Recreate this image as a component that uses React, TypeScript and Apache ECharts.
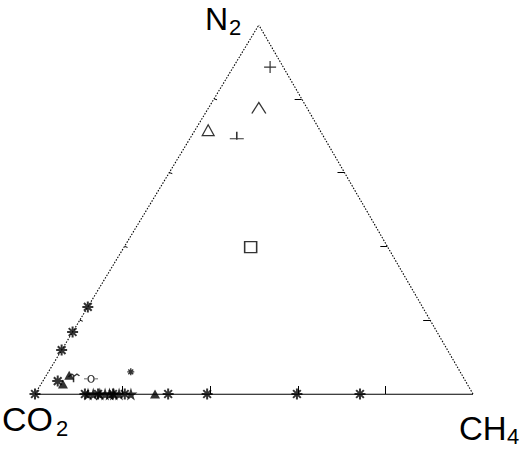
import React, { useEffect, useRef } from 'react';
import * as echarts from 'echarts';

// Vertex labels (main text + subscript): top, bottom-left, bottom-right
const vertexNames = ['N', 'CO', 'CH'];
const vertexSubscripts = ['2', '2', '4'];
const edgeTicks = [20, 40, 60, 80];

// Samples as [N2 %, CH4 %]; CO2 = 100 - N2 - CH4
const crossPts = [[88.6, 8.4]];
const caretPts = [[77.5, 11.5]];
const openTrianglePts = [[71.5, 3.0]];
const teePts = [[70.0, 10.3]];
const squarePts = [[39.8, 28.9]];
const asteriskPts = [
  [0, 0], [23.6, 0], [16.8, 0], [11.9, 0], [3.5, 3.4],
  [0, 11.4], [0, 14.4], [0, 17.8], [0, 20.5], [0, 30.4], [0, 39.3], [0, 59.8], [0, 74.2],
];
const smallAsteriskPts = [[6.0, 18.8]];
const starPts = [[0, 12.1], [0, 13.3], [0, 14.8], [0, 16.0], [0, 17.0], [0, 18.0], [0, 19.2], [0, 21.9]];
const filledTrianglePts = [[2.7, 5.0], [5.1, 5.2], [0, 27.4]];
const birdPts = [[4.3, 6.7]];
const circleLinePts = [[4.1, 10.7]];

const APEX_X = 0.511; // horizontal position of the N2 apex (drawing is slightly skewed)

const toXY = (p: number[]) => [p[1] / 100 + (p[0] / 100) * APEX_X, p[0] / 100];

const STAR = 'path://M50,0 L61,35 L98,35 L68,57 L79,91 L50,70 L21,91 L32,57 L2,35 L39,35 Z';
const ASTERISK = 'path://M5,0 L5,10 M0,5 L10,5 M1.5,1.5 L8.5,8.5 M8.5,1.5 L1.5,8.5';
const CROSS = 'path://M6,0 L6,12 M0,6 L12,6';
const CARET = 'path://M0,11 L7,0 L14,11';
const TEE = 'path://M0,7 L14,7 M7,0 L7,8';
const BIRD = 'path://M0,3 L4,0 L7,2 L10,0 L13,2 M6,1 L6,9';
const CIRCLE_LINE = 'path://M0,4 L3,4 M11,4 L14,4 M10,4 A3,3 0 1,1 4,4 A3,3 0 1,1 10,4';

export default function App() {
  const ref = useRef<HTMLDivElement>(null);
  useEffect(() => {
    if (!ref.current) return;
    const chart = echarts.init(ref.current, undefined, { renderer: 'svg' });
    const font = '"Liberation Sans", Arial, sans-serif';

    const strokeScatter = (name: string, data: number[][], symbol: string, size: any, width = 1.2) => ({
      name,
      type: 'scatter',
      data: data.map(toXY),
      symbol,
      symbolSize: size,
      silent: true,
      itemStyle: { color: 'transparent', borderColor: '#000', borderWidth: width },
      z: 5,
    });
    const fillScatter = (name: string, data: number[][], symbol: string, size: any) => ({
      name,
      type: 'scatter',
      data: data.map(toXY),
      symbol,
      symbolSize: size,
      silent: true,
      itemStyle: { color: '#000', borderWidth: 0 },
      z: 5,
    });

    const pxX = 1 / 438;
    const pxY = 1 / 369;
    const tickLines: any[] = [];
    edgeTicks.forEach((t) => {
      const f = t / 100;
      tickLines.push({ coords: [[f, 0], [f, 8 * pxY]] });
      const rx = 1 - f * (1 - APEX_X);
      tickLines.push({ coords: [[rx, f], [rx - 7 * pxX, f]] });
      const lx = f * APEX_X;
      tickLines.push({ coords: [[lx, f], [lx + 3 * pxX, f - 1 * pxY]] });
    });

    const labelPos = [
      { x: 205, y: 3, sx: 229, sy: 16, fs: 32 },
      { x: 2, y: 402, sx: 56, sy: 417, fs: 34 },
      { x: 459, y: 412, sx: 507, sy: 425, fs: 33 },
    ];
    const graphics: any[] = [];
    vertexNames.forEach((n, i) => {
      const p = labelPos[i];
      graphics.push({
        type: 'text', x: p.x, y: p.y,
        style: { text: n, fontSize: p.fs, fontFamily: font, fill: '#000', verticalAlign: 'top' },
      });
      graphics.push({
        type: 'text', x: p.sx, y: p.sy,
        style: { text: vertexSubscripts[i], fontSize: 22, fontFamily: font, fill: '#000', verticalAlign: 'top' },
      });
    });

    chart.setOption({
      animation: false,
      backgroundColor: '#fff',
      grid: { left: 35, right: 51, top: 25, bottom: 59 },
      xAxis: { type: 'value', min: 0, max: 1, show: false },
      yAxis: { type: 'value', min: 0, max: 1, show: false },
      graphic: graphics,
      series: [
        {
          type: 'lines', coordinateSystem: 'cartesian2d', silent: true, z: 2,
          data: [{ coords: [[0, 0], [1, 0]] }],
          lineStyle: { color: '#000', width: 1.3, opacity: 1 },
        },
        {
          type: 'lines', coordinateSystem: 'cartesian2d', silent: true, z: 2,
          data: [{ coords: [[0, 0], [APEX_X, 1]] }, { coords: [[1, 0], [APEX_X, 1]] }],
          lineStyle: { color: '#000', width: 1.1, type: [1.5, 1.5], opacity: 1 },
        },
        {
          type: 'lines', coordinateSystem: 'cartesian2d', silent: true, z: 2,
          data: tickLines,
          lineStyle: { color: '#000', width: 1, opacity: 1 },
        },
        strokeScatter('cross', crossPts, CROSS, 12),
        strokeScatter('caret', caretPts, CARET, [14, 11]),
        strokeScatter('openTriangle', openTrianglePts, 'path://M0,11 L6,0 L12,11 Z', [12, 11]),
        strokeScatter('tee', teePts, TEE, [14, 8]),
        strokeScatter('square', squarePts, 'path://M0,0 L12,0 L12,11 L0,11 Z', [12, 11], 1.5),
        strokeScatter('asterisk', asteriskPts, ASTERISK, 11, 2),
        strokeScatter('smallAsterisk', smallAsteriskPts, ASTERISK, 7, 1.4),
        fillScatter('star', starPts, STAR, 13),
        fillScatter('filledTriangle', filledTrianglePts, 'triangle', [10, 9]),
        strokeScatter('bird', birdPts, BIRD, [11, 8], 1.3),
        strokeScatter('circleLine', circleLinePts, CIRCLE_LINE, [14, 7], 1),
      ],
    });
    return () => chart.dispose();
  }, []);
  return <div ref={ref} style={{ position: 'absolute', left: 0, top: 0, width: 524, height: 453 }} />;
}
